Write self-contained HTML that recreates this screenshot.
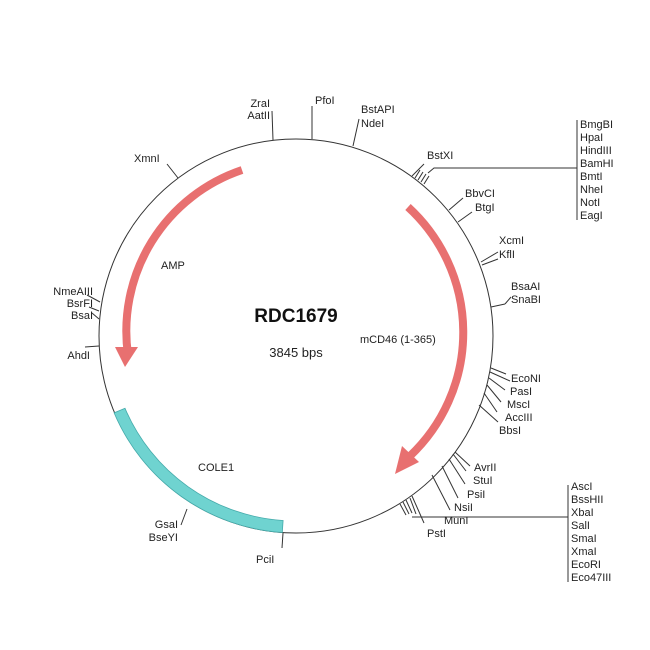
<!DOCTYPE html>
<html><head><meta charset="utf-8"><style>
html,body{margin:0;padding:0;background:#fff;}
svg{display:block;}
text{font-family:"Liberation Sans",sans-serif;font-size:11px;fill:#222;}
</style></head><body>
<svg width="650" height="650" viewBox="0 0 650 650" xmlns="http://www.w3.org/2000/svg">
<circle cx="296" cy="336" r="197" fill="none" stroke="#333" stroke-width="1"/>
<!-- COLE1 band -->
<path d="M 114.1 412.9 A 197 197 0 0 0 282.3 532.5 L 283.1 520.5 A 185 185 0 0 1 125.0 408.3 Z" fill="#6fd3d0" stroke="#4aa" stroke-width="0.8"/>
<!-- AMP arrow -->
<path d="M 242 170 A 170 170 0 0 0 128 355" fill="none" stroke="#e87070" stroke-width="8"/>
<polygon points="115,347 138,347 125,367" fill="#e87070"/>
<!-- mCD46 arrow -->
<path d="M 408 207 A 170 170 0 0 1 410 456" fill="none" stroke="#e87070" stroke-width="8"/>
<polygon points="402,446 419,462 395,474" fill="#e87070"/>
<g stroke="#333" stroke-width="1" fill="none">
<line x1="273" y1="140" x2="272" y2="111"/>
<line x1="312" y1="139" x2="312" y2="106"/>
<line x1="353" y1="146" x2="359" y2="119"/>
<line x1="178" y1="178" x2="167" y2="164"/>
<line x1="412" y1="176" x2="424" y2="164"/>
<line x1="415" y1="178" x2="420" y2="170"/>
<line x1="418" y1="180" x2="423" y2="172"/>
<line x1="421" y1="182" x2="426" y2="174"/>
<line x1="424" y1="184" x2="429" y2="176"/>
<polyline points="428,173 434,168 577,168"/>
<line x1="577" y1="120" x2="577" y2="220"/>
<line x1="449" y1="210" x2="463" y2="198"/>
<line x1="458" y1="222" x2="472" y2="212"/>
<line x1="481" y1="262" x2="498" y2="252"/>
<line x1="482" y1="265" x2="498" y2="259"/>
<line x1="491" y1="307" x2="505" y2="304"/>
<line x1="505" y1="304" x2="511" y2="297"/>
<line x1="491" y1="368" x2="506" y2="374"/>
<line x1="490" y1="372" x2="510" y2="381"/>
<line x1="489" y1="378" x2="505" y2="390"/>
<line x1="487" y1="385" x2="501" y2="402"/>
<line x1="484" y1="393" x2="497" y2="412"/>
<line x1="479" y1="405" x2="498" y2="422"/>
<line x1="455" y1="452" x2="470" y2="466"/>
<line x1="453" y1="454" x2="466" y2="471"/>
<line x1="449" y1="459" x2="465" y2="484"/>
<line x1="442" y1="466" x2="458" y2="498"/>
<line x1="432" y1="475" x2="450" y2="510"/>
<line x1="412" y1="496" x2="424" y2="523"/>
<line x1="410" y1="498" x2="416" y2="514"/>
<line x1="406" y1="500" x2="412" y2="513"/>
<line x1="403" y1="502" x2="409" y2="514"/>
<line x1="400" y1="504" x2="406" y2="515"/>
<line x1="412" y1="517" x2="568" y2="517"/>
<line x1="568" y1="485" x2="568" y2="582"/>
<line x1="100" y1="302" x2="87" y2="295"/>
<line x1="99" y1="311" x2="89" y2="307"/>
<line x1="99" y1="319" x2="92" y2="313"/>
<line x1="99" y1="346" x2="85" y2="347"/>
<line x1="187" y1="509" x2="181" y2="525"/>
<line x1="283" y1="533" x2="282" y2="548"/>
</g>
<text x="270" y="107" text-anchor="end">ZraI</text>
<text x="270" y="119" text-anchor="end">AatII</text>
<text x="315" y="104">PfoI</text>
<text x="361" y="113">BstAPI</text>
<text x="361" y="127">NdeI</text>
<text x="134" y="162">XmnI</text>
<text x="427" y="159">BstXI</text>
<text x="580" y="128">BmgBI</text>
<text x="580" y="141">HpaI</text>
<text x="580" y="154">HindIII</text>
<text x="580" y="167">BamHI</text>
<text x="580" y="180">BmtI</text>
<text x="580" y="193">NheI</text>
<text x="580" y="206">NotI</text>
<text x="580" y="219">EagI</text>
<text x="465" y="197">BbvCI</text>
<text x="475" y="211">BtgI</text>
<text x="499" y="244">XcmI</text>
<text x="499" y="258">KflI</text>
<text x="511" y="290">BsaAI</text>
<text x="511" y="303">SnaBI</text>
<text x="511" y="382">EcoNI</text>
<text x="510" y="395">PasI</text>
<text x="507" y="408">MscI</text>
<text x="505" y="421">AccIII</text>
<text x="499" y="434">BbsI</text>
<text x="474" y="471">AvrII</text>
<text x="473" y="484">StuI</text>
<text x="467" y="498">PsiI</text>
<text x="454" y="511">NsiI</text>
<text x="444" y="524">MunI</text>
<text x="427" y="537">PstI</text>
<text x="571" y="490">AscI</text>
<text x="571" y="503">BssHII</text>
<text x="571" y="516">XbaI</text>
<text x="571" y="529">SalI</text>
<text x="571" y="542">SmaI</text>
<text x="571" y="555">XmaI</text>
<text x="571" y="568">EcoRI</text>
<text x="571" y="581">Eco47III</text>
<text x="93" y="295" text-anchor="end">NmeAIII</text>
<text x="93" y="307" text-anchor="end">BsrFI</text>
<text x="93" y="319" text-anchor="end">BsaI</text>
<text x="90" y="359" text-anchor="end">AhdI</text>
<text x="178" y="528" text-anchor="end">GsaI</text>
<text x="178" y="541" text-anchor="end">BseYI</text>
<text x="256" y="563">PciI</text>
<text x="161" y="269">AMP</text>
<text x="360" y="343">mCD46 (1-365)</text>
<text x="198" y="471">COLE1</text>
<text x="296" y="322" text-anchor="middle" style="font-size:19px;font-weight:bold;fill:#111">RDC1679</text>
<text x="296" y="357" text-anchor="middle" style="font-size:13px">3845 bps</text>
</svg>
</body></html>
